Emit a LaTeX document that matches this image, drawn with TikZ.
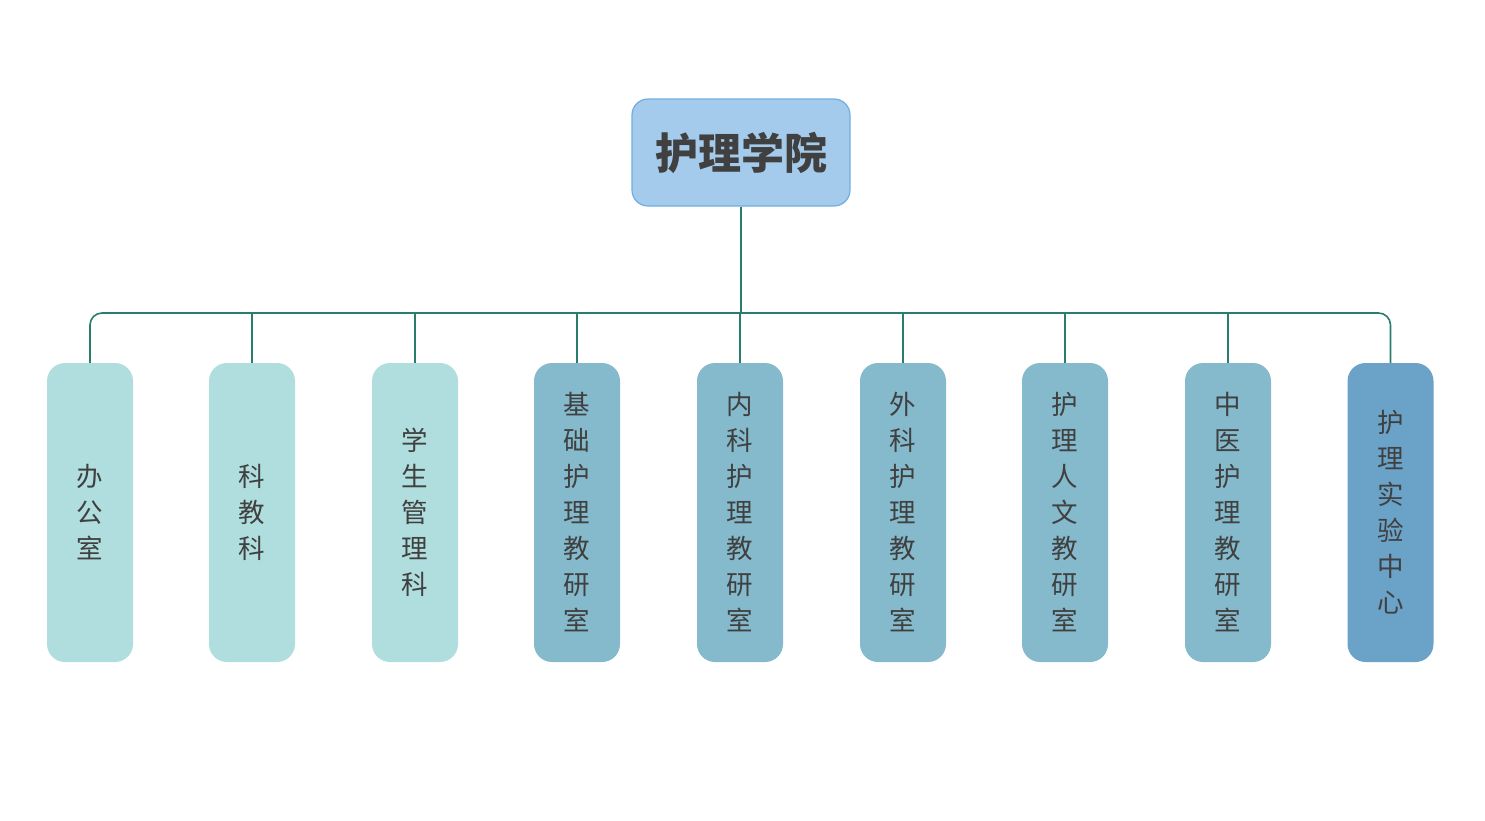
\documentclass[tikz,border=0pt]{standalone}
\usepackage{fontspec}
\newfontfamily\cjk{Noto Sans CJK SC}
\definecolor{rootfill}{HTML}{A5CBEC}
\definecolor{rootline}{HTML}{70AEE0}
\definecolor{lightc}{HTML}{B0DEDE}
\definecolor{midc}{HTML}{84BACC}
\definecolor{darkc}{HTML}{6AA2C8}
\definecolor{conn}{HTML}{2A7D6C}
\definecolor{txt}{HTML}{404040}
\tikzset{
  rootbox/.style={rectangle, rounded corners=16pt, fill=rootfill, draw=rootline, line width=1.2pt,
    minimum width=218pt, minimum height=107pt, inner sep=0pt, text=txt,
    font=\cjk\bfseries\fontsize{43}{48}\selectfont},
  childbox/.style={rectangle, rounded corners=18pt, minimum width=86pt, minimum height=299pt,
    inner sep=0pt, align=center, text=txt, font=\cjk\fontsize{26.5}{36}\selectfont},
  lightbox/.style={childbox, fill=lightc},
  midbox/.style={childbox, fill=midc},
  darkbox/.style={childbox, fill=darkc},
  link/.style={draw=conn, line width=1.6pt}
}
\begin{document}
\begin{tikzpicture}[x=1pt,y=-1pt]
\useasboundingbox (0,0) rectangle (1485,820);
\node[rootbox] (root) at (741,152.5) {\raisebox{-2pt}{护理学院}};
\node[lightbox] (c1) at (90,512.5) {办\\公\\室};
\node[lightbox] (c2) at (252,512.5) {科\\教\\科};
\node[lightbox] (c3) at (415,512.5) {学\\生\\管\\理\\科};
\node[midbox] (c4) at (577,512.5) {基\\础\\护\\理\\教\\研\\室};
\node[midbox] (c5) at (740,512.5) {内\\科\\护\\理\\教\\研\\室};
\node[midbox] (c6) at (903,512.5) {外\\科\\护\\理\\教\\研\\室};
\node[midbox] (c7) at (1065,512.5) {护\\理\\人\\文\\教\\研\\室};
\node[midbox] (c8) at (1228,512.5) {中\\医\\护\\理\\教\\研\\室};
\node[darkbox] (c9) at (1390.5,512.5) {护\\理\\实\\验\\中\\心};
\coordinate (bus) at (740,313);
\draw[link] (root.south) -- (root.south |- bus);
\draw[link, rounded corners=12pt] (c1.north) |- (bus) -| (c9.north);
\foreach \i in {2,...,8} {
  \draw[link] (c\i.north) -- (c\i.north |- bus);
}
\end{tikzpicture}
\end{document}
